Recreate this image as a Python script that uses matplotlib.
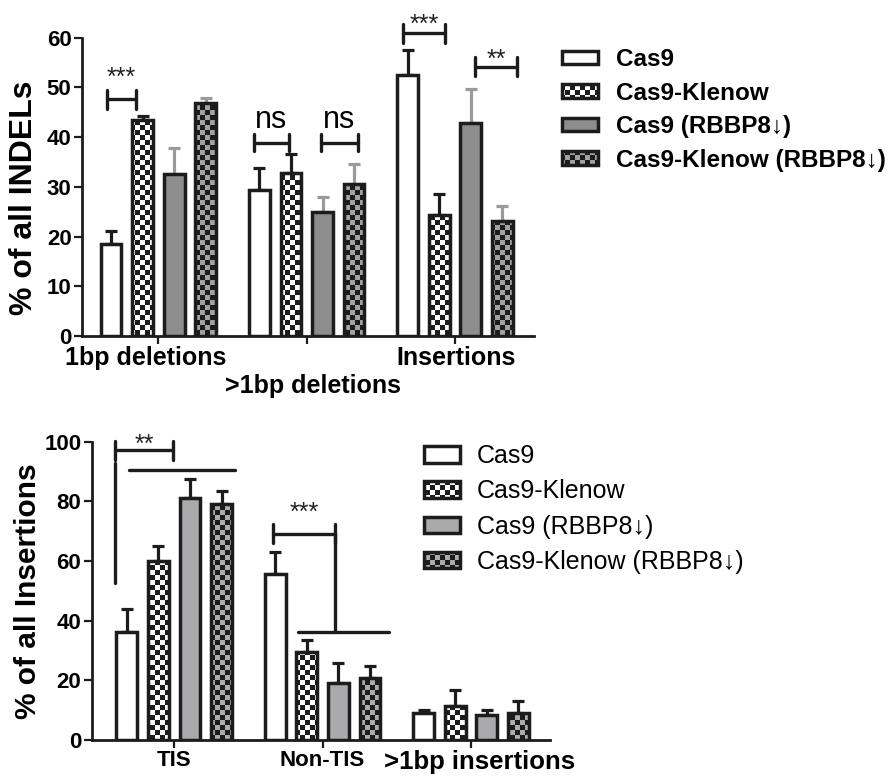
import numpy as np
import matplotlib
matplotlib.use('Agg')
import matplotlib.pyplot as plt
import matplotlib.hatch as mhatch
from matplotlib.path import Path
from matplotlib.transforms import ScaledTranslation

#%% data
conditions = ['Cas9', 'Cas9-Klenow', 'Cas9 (RBBP8↓)', 'Cas9-Klenow (RBBP8↓)']

indel_groups = ['1bp deletions', '>1bp deletions', 'Insertions']
indel_cas9 = [18.5, 29.4, 52.5]
indel_klenow = [43.5, 32.7, 24.3]
indel_cas9_rb = [32.6, 24.9, 42.9]
indel_klenow_rb = [46.8, 30.6, 23.2]
indel_cas9_err = [2.7, 4.3, 5.0]
indel_klenow_err = [0.8, 3.9, 4.2]
indel_cas9_rb_err = [5.2, 3.0, 6.8]
indel_klenow_rb_err = [1.0, 4.0, 3.0]

ins_groups = ['TIS', 'Non-TIS', '>1bp insertions']
ins_cas9 = [36.1, 55.5, 9.0]
ins_klenow = [60.0, 29.6, 11.4]
ins_cas9_rb = [81.0, 19.0, 8.3]
ins_klenow_rb = [79.1, 20.9, 9.0]
ins_cas9_err = [7.8, 7.6, 1.2]
ins_klenow_err = [5.1, 3.9, 5.3]
ins_cas9_rb_err = [6.4, 6.7, 1.7]
ins_klenow_rb_err = [4.3, 4.0, 4.2]

# significance brackets: (x1, x2, y, arm, label, label_y)
indel_sig = [(-0.349, -0.152, 47.6, 1.95, '***', 53.5),
             (0.644, 0.882, 38.9, 1.65, 'ns', 41.8),
             (1.094, 1.347, 38.9, 1.65, 'ns', 41.8),
             (1.651, 1.932, 60.9, 1.95, '***', 64.1),
             (2.134, 2.419, 54.2, 1.85, '**', 57.2)]
ins_sig = [(-0.399, -0.010, 97.2, 3.2, '**', 101.8),
           (0.663, 1.083, 69.2, 3.2, '***', 78.7)]
# connecting lines of the insertion brackets: (x1, x2, y1, y2)
ins_lines = [(-0.399, -0.399, 52.5, 92.8),
             (-0.302, 0.409, 90.5, 90.5),
             (1.083, 1.083, 36.2, 69.2),
             (0.832, 1.446, 36.2, 36.2)]


#%% checkerboard hatch (each '.' = 10 cells per 1-inch tile)
class CheckerHatch(mhatch.HatchPatternBase):
    def __init__(self, hatch, density):
        self.n = hatch.count('.') * 10
        self.num_vertices = (self.n * self.n // 2) * 5

    def set_vertices_and_codes(self, vertices, codes):
        s = 1.0 / self.n
        k = 0
        for i in range(self.n):
            for j in range(self.n):
                if (i + j) % 2 == 0:
                    x0, y0 = i * s, j * s
                    vertices[k:k + 5] = [(x0, y0), (x0 + s, y0), (x0 + s, y0 + s),
                                         (x0, y0 + s), (x0, y0)]
                    codes[k:k + 5] = [Path.MOVETO, Path.LINETO, Path.LINETO,
                                      Path.LINETO, Path.CLOSEPOLY]
                    k += 5

mhatch._hatch_types = [CheckerHatch]

plt.rcParams['font.family'] = ['Liberation Sans', 'DejaVu Sans']
plt.rcParams['font.weight'] = 'bold'
plt.rcParams['hatch.linewidth'] = 0.01
edge = '#1c1c1c'


def draw_panel(ax, groups, means, errs, faces, hatches, ecolors):
    x = np.arange(len(groups))
    offsets = (np.arange(4) - 1.5) * 0.213
    for k in range(4):
        ax.errorbar(x + offsets[k], means[k], yerr=[np.zeros(len(x)), errs[k]],
                    fmt='none', ecolor=ecolors[k], elinewidth=2.3, capsize=4.2,
                    capthick=2.3, zorder=2)
        ax.bar(x + offsets[k], means[k], width=0.14, color=faces[k], edgecolor=edge,
               linewidth=2.5, hatch=hatches[k], zorder=3, label=conditions[k])
    for s in ['top', 'right']:
        ax.spines[s].set_visible(False)
    for s in ['left', 'bottom']:
        ax.spines[s].set_linewidth(2.0)
        ax.spines[s].set_color(edge)
    ax.set_xticks(x)
    ax.set_xticklabels(groups)
    ax.tick_params(axis='y', length=5.5, width=1.6, pad=2, labelsize=16, color=edge)
    ax.tick_params(axis='x', length=6, width=1.6, pad=1, color=edge)


def brackets(ax, sig, fs_stars=18, fs_ns=22):
    for x1, x2, y, arm, lab, ly in sig:
        kw = dict(color=edge, lw=2.4, solid_capstyle='round', clip_on=False, zorder=4)
        ax.plot([x1, x2], [y, y], **kw)
        ax.plot([x1, x1], [y - arm, y + arm], **kw)
        ax.plot([x2, x2], [y - arm, y + arm], **kw)
        if lab == 'ns':
            ax.annotate(lab, xy=((x1 + x2) / 2, ly), ha='center', va='baseline',
                        fontsize=fs_ns, fontweight='normal', annotation_clip=False)
        else:
            ax.annotate(lab, xy=((x1 + x2) / 2, ly), xytext=(0, -0.6 * fs_stars),
                        textcoords='offset points', ha='center', va='baseline',
                        fontsize=fs_stars, fontweight='normal', color='#222222',
                        annotation_clip=False)


fig = plt.figure(figsize=(8.93, 7.78), dpi=100)

#%% top panel
ax1 = fig.add_axes([0.0918, 0.5681, 0.506, 0.3834])
draw_panel(ax1, indel_groups,
           [indel_cas9, indel_klenow, indel_cas9_rb, indel_klenow_rb],
           [indel_cas9_err, indel_klenow_err, indel_cas9_rb_err, indel_klenow_rb_err],
           ['white', 'white', '#8d8d8d', '#a3a3a3'],
           ['', '..', '', '..'],
           [edge, edge, '#9a9a9a', '#9a9a9a'])
ax1.set_ylim(0, 60)
ax1.set_yticks(np.arange(0, 61, 10))
ax1.set_xlim(-0.516, 2.532)
brackets(ax1, indel_sig)
labels = ax1.get_xticklabels()
labels[1].set_text('\n' + indel_groups[1])
ax1.set_xticklabels([l.get_text() for l in labels])
for lbl, dx in zip(ax1.get_xticklabels(), [-13, 6, 1]):
    lbl.set_fontsize(18)
    lbl.set_linespacing(1.2)
    lbl.set_transform(lbl.get_transform() + ScaledTranslation(dx / 100, 0, fig.dpi_scale_trans))
fig.text(24 / 893, 1 - 197.5 / 778, '% of all INDELs', rotation=90, ha='center',
         va='center', fontsize=23)
h1, l1 = ax1.get_legend_handles_labels()
fig.legend(h1, l1, loc='upper left', bbox_to_anchor=(0.629, 0.938), frameon=False,
           fontsize=17.5, handlelength=1.48, handleheight=0.49, handletextpad=0.74,
           labelspacing=0.43, borderpad=0, borderaxespad=0)

#%% bottom panel
ax2 = fig.add_axes([0.1027, 0.0488, 0.513, 0.3834])
draw_panel(ax2, ins_groups,
           [ins_cas9, ins_klenow, ins_cas9_rb, ins_klenow_rb],
           [ins_cas9_err, ins_klenow_err, ins_cas9_rb_err, ins_klenow_rb_err],
           ['white', 'white', '#aaaaad', '#adadad'],
           ['', '..', '', '..'],
           [edge, edge, edge, edge])
ax2.set_ylim(0, 100)
ax2.set_yticks(np.arange(0, 101, 20))
ax2.set_xlim(-0.556, 2.531)
brackets(ax2, ins_sig)
for x1, x2, y1, y2 in ins_lines:
    ax2.plot([x1, x2], [y1, y2], color=edge, lw=2.4, solid_capstyle='round',
             clip_on=False, zorder=4)
for lbl, dx, fs in zip(ax2.get_xticklabels(), [0, 0, 9], [16, 16, 18.5]):
    lbl.set_fontsize(fs)
    lbl.set_transform(lbl.get_transform() + ScaledTranslation(dx / 100, 0, fig.dpi_scale_trans))
fig.text(28.5 / 893, 1 - 591 / 778, '% of all Insertions', rotation=90, ha='center',
         va='center', fontsize=21.5)
h2, l2 = ax2.get_legend_handles_labels()
fig.legend(h2, l2, loc='upper left', bbox_to_anchor=(0.475, 0.429), frameon=False,
           prop={'size': 18, 'weight': 'normal'}, handlelength=1.44, handleheight=0.64,
           handletextpad=0.67, labelspacing=0.45, borderpad=0, borderaxespad=0)

fig.savefig('out.png', dpi=100)
